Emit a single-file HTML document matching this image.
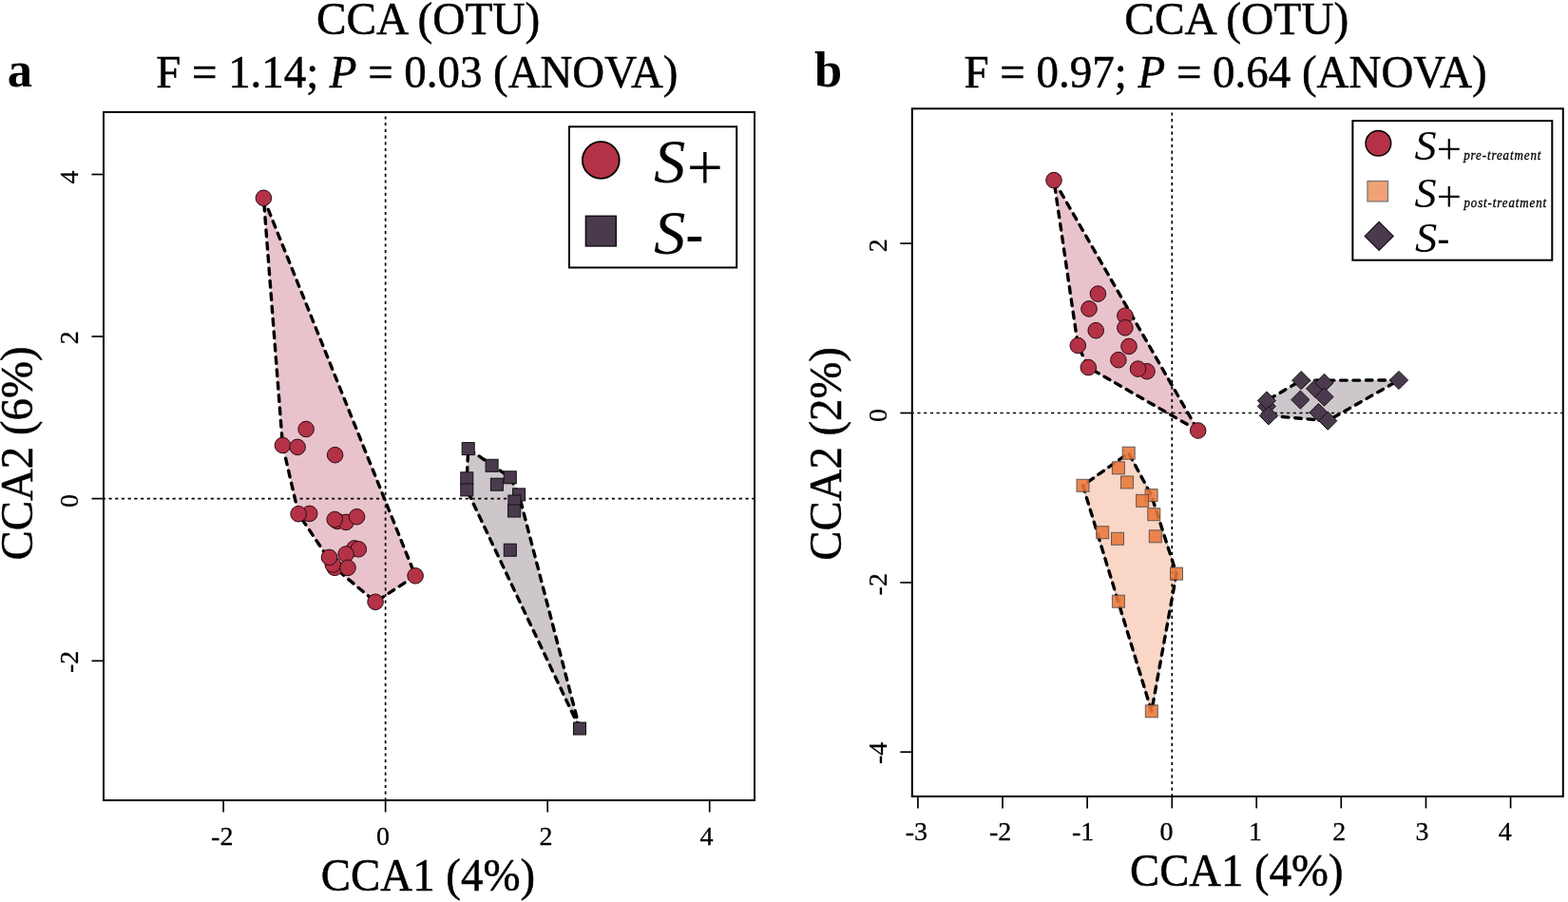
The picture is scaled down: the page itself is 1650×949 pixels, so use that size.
<!DOCTYPE html>
<html><head><meta charset="utf-8"><title>CCA (OTU)</title>
<style>html,body{margin:0;padding:0;background:#fff;width:1650px;height:949px;overflow:hidden}svg{display:block}</style>
</head><body>
<svg width="1650" height="949" viewBox="0 0 1650 949">
<style>
.tk{stroke:#000;stroke-width:1.7}
.dot{stroke:#000;stroke-width:1.7;stroke-dasharray:3.2 3.5}
.hl{fill:none;stroke:#000;stroke-width:3.4;stroke-dasharray:6.7 6.7;stroke-linecap:round;stroke-linejoin:round}
.pc{fill:#b43246;stroke:#2a0a12;stroke-width:1}
.ps{fill:#4b3a4e;stroke:#111;stroke-width:1}
.pd{fill:#4b3a4e;stroke:#111;stroke-width:1}
.po{fill:#e8773a;fill-opacity:0.88;stroke:#444;stroke-opacity:0.8;stroke-width:1}
</style>
<rect width="1650" height="949" fill="#fff"/>
<polygon points="277.4,208.3 437.1,605.8 395.1,633.3 352.2,597.3 314.1,540.7 297.4,468.5" fill="#e8c3cb"/>
<polygon points="491.3,503.3 492.7,472.1 536.8,502.3 546.1,520.4 610.0,766.5 491.3,515.4" fill="#cdc6cb"/>
<line x1="405.65" y1="119" x2="405.65" y2="841" class="dot" stroke-dashoffset="3.30"/><line x1="110" y1="524.6" x2="793" y2="524.6" class="dot" stroke-dashoffset="2.20"/>
<polygon points="437.1,605.8 395.1,633.3 352.2,597.3 314.1,540.7 297.4,468.5 277.4,208.3" class="hl"/>
<polygon points="610.0,766.5 491.3,515.4 491.3,503.3 492.7,472.1 536.8,502.3 546.1,520.4" class="hl"/>
<circle cx="277.4" cy="208.3" r="8.3" class="pc"/><circle cx="322.1" cy="451.5" r="8.3" class="pc"/><circle cx="297.4" cy="468.5" r="8.3" class="pc"/><circle cx="313.1" cy="470.4" r="8.3" class="pc"/><circle cx="352.6" cy="478.7" r="8.3" class="pc"/><circle cx="325.7" cy="540.4" r="8.3" class="pc"/><circle cx="314.1" cy="540.7" r="8.3" class="pc"/><circle cx="355" cy="548.4" r="8.3" class="pc"/><circle cx="364.1" cy="549.4" r="8.3" class="pc"/><circle cx="352.2" cy="546.5" r="8.3" class="pc"/><circle cx="375.5" cy="543.7" r="8.3" class="pc"/><circle cx="373" cy="576.9" r="8.3" class="pc"/><circle cx="377.3" cy="577.8" r="8.3" class="pc"/><circle cx="352.2" cy="597.3" r="8.3" class="pc"/><circle cx="350.3" cy="594" r="8.3" class="pc"/><circle cx="346.5" cy="586.4" r="8.3" class="pc"/><circle cx="364.1" cy="583" r="8.3" class="pc"/><circle cx="366" cy="597.3" r="8.3" class="pc"/><circle cx="437.1" cy="605.8" r="8.3" class="pc"/><circle cx="395.1" cy="633.3" r="8.3" class="pc"/>
<rect x="486.2" y="465.6" width="13.0" height="13.0" class="ps"/><rect x="511.1" y="483.3" width="13.0" height="13.0" class="ps"/><rect x="484.8" y="496.8" width="13.0" height="13.0" class="ps"/><rect x="484.8" y="508.9" width="13.0" height="13.0" class="ps"/><rect x="530.3" y="495.8" width="13.0" height="13.0" class="ps"/><rect x="516.4" y="503.2" width="13.0" height="13.0" class="ps"/><rect x="539.6" y="513.9" width="13.0" height="13.0" class="ps"/><rect x="534.9" y="521.0" width="13.0" height="13.0" class="ps"/><rect x="534.6" y="531.0" width="13.0" height="13.0" class="ps"/><rect x="530.3" y="572.2" width="13.0" height="13.0" class="ps"/><rect x="603.5" y="760.0" width="13.0" height="13.0" class="ps"/>
<rect x="109" y="118" width="685" height="724" fill="none" stroke="#000" stroke-width="2"/>
<line x1="235.1" y1="842" x2="235.1" y2="854.5" class="tk"/><line x1="405.65" y1="842" x2="405.65" y2="854.5" class="tk"/><line x1="576.2" y1="842" x2="576.2" y2="854.5" class="tk"/><line x1="746.7" y1="842" x2="746.7" y2="854.5" class="tk"/>
<line x1="109" y1="183.5" x2="96.5" y2="183.5" class="tk"/><line x1="109" y1="354.0" x2="96.5" y2="354.0" class="tk"/><line x1="109" y1="524.6" x2="96.5" y2="524.6" class="tk"/><line x1="109" y1="695.3" x2="96.5" y2="695.3" class="tk"/>
<rect x="599" y="133.3" width="176.2" height="148.2" fill="#fff" stroke="#000" stroke-width="2"/>
<circle cx="632.3" cy="168.5" r="19.4" class="pc" style="stroke:#000;stroke-width:1.8"/>
<rect x="616.4" y="227.3" width="31.9" height="31.6" class="ps" style="stroke-width:1.5"/>
<polygon points="1109.0,189.6 1260.7,453.0 1145.3,386.6 1134.3,363.5" fill="#e8c3cb"/>
<polygon points="1139.5,510.8 1187.7,476.7 1211.6,521.1 1238.0,603.6 1211.8,748.3" fill="#f9d6c5" stroke="#aab2b9" stroke-width="1"/>
<polygon points="1332.9,421.5 1369.2,400.2 1472.0,400.0 1397.3,442.7 1334.9,437.3 1332.9,427.5" fill="#cdc6cb"/>
<line x1="1233.3" y1="115.3" x2="1233.3" y2="836.9" class="dot" stroke-dashoffset="3.60"/><line x1="960.8" y1="434.5" x2="1643.8" y2="434.5" class="dot" stroke-dashoffset="2.10"/>
<polygon points="1260.7,453.0 1145.3,386.6 1134.3,363.5 1109.0,189.6" class="hl"/>
<polygon points="1238.0,603.6 1211.8,748.3 1139.5,510.8 1187.7,476.7 1211.6,521.1" class="hl"/>
<polygon points="1397.3,442.7 1334.9,437.3 1332.9,427.5 1332.9,421.5 1369.2,400.2 1472.0,400.0" class="hl" stroke-dashoffset="-1.3"/>
<circle cx="1109" cy="189.6" r="8.3" class="pc"/><circle cx="1155.4" cy="309.1" r="8.3" class="pc"/><circle cx="1146" cy="324.9" r="8.3" class="pc"/><circle cx="1183.9" cy="332.2" r="8.3" class="pc"/><circle cx="1153.2" cy="347.7" r="8.3" class="pc"/><circle cx="1183.9" cy="344.8" r="8.3" class="pc"/><circle cx="1134.3" cy="363.5" r="8.3" class="pc"/><circle cx="1188" cy="364.4" r="8.3" class="pc"/><circle cx="1176.9" cy="378.7" r="8.3" class="pc"/><circle cx="1145.3" cy="386.6" r="8.3" class="pc"/><circle cx="1207" cy="390.7" r="8.3" class="pc"/><circle cx="1197.5" cy="388.1" r="8.3" class="pc"/><circle cx="1260.7" cy="453" r="8.3" class="pc"/>
<rect x="1181.2" y="470.2" width="13.0" height="13.0" class="po"/><rect x="1170.4" y="485.8" width="13.0" height="13.0" class="po"/><rect x="1133.0" y="504.3" width="13.0" height="13.0" class="po"/><rect x="1179.5" y="500.9" width="13.0" height="13.0" class="po"/><rect x="1205.1" y="514.6" width="13.0" height="13.0" class="po"/><rect x="1195.6" y="520.3" width="13.0" height="13.0" class="po"/><rect x="1207.8" y="534.7" width="13.0" height="13.0" class="po"/><rect x="1153.7" y="553.7" width="13.0" height="13.0" class="po"/><rect x="1169.5" y="560.3" width="13.0" height="13.0" class="po"/><rect x="1209.3" y="557.8" width="13.0" height="13.0" class="po"/><rect x="1231.5" y="597.1" width="13.0" height="13.0" class="po"/><rect x="1170.4" y="626.2" width="13.0" height="13.0" class="po"/><rect x="1205.3" y="741.8" width="13.0" height="13.0" class="po"/>
<polygon points="1332.9,417.9 1342.5,427.5 1332.9,437.1 1323.3000000000002,427.5" class="pd"/><polygon points="1332.9,411.9 1342.5,421.5 1332.9,431.1 1323.3000000000002,421.5" class="pd"/><polygon points="1334.9,427.7 1344.5,437.3 1334.9,446.90000000000003 1325.3000000000002,437.3" class="pd"/><polygon points="1369.2,390.59999999999997 1378.8,400.2 1369.2,409.8 1359.6000000000001,400.2" class="pd"/><polygon points="1368.4,411.0 1378.0,420.6 1368.4,430.20000000000005 1358.8000000000002,420.6" class="pd"/><polygon points="1384.2,399.29999999999995 1393.8,408.9 1384.2,418.5 1374.6000000000001,408.9" class="pd"/><polygon points="1393.5,393.29999999999995 1403.1,402.9 1393.5,412.5 1383.9,402.9" class="pd"/><polygon points="1393.5,408.0 1403.1,417.6 1393.5,427.20000000000005 1383.9,417.6" class="pd"/><polygon points="1387.5,424.4 1397.1,434 1387.5,443.6 1377.9,434" class="pd"/><polygon points="1397.3,433.09999999999997 1406.8999999999999,442.7 1397.3,452.3 1387.7,442.7" class="pd"/><polygon points="1472,390.4 1481.6,400 1472,409.6 1462.4,400" class="pd"/>
<rect x="959.8" y="114.3" width="685.0" height="723.6" fill="none" stroke="#000" stroke-width="2"/>
<line x1="965.9" y1="837.9" x2="965.9" y2="850.4" class="tk"/><line x1="1055.0" y1="837.9" x2="1055.0" y2="850.4" class="tk"/><line x1="1144.1" y1="837.9" x2="1144.1" y2="850.4" class="tk"/><line x1="1233.3" y1="837.9" x2="1233.3" y2="850.4" class="tk"/><line x1="1322.2" y1="837.9" x2="1322.2" y2="850.4" class="tk"/><line x1="1411.3" y1="837.9" x2="1411.3" y2="850.4" class="tk"/><line x1="1500.5" y1="837.9" x2="1500.5" y2="850.4" class="tk"/><line x1="1589.6" y1="837.9" x2="1589.6" y2="850.4" class="tk"/>
<line x1="959.8" y1="256.1" x2="947.3" y2="256.1" class="tk"/><line x1="959.8" y1="434.5" x2="947.3" y2="434.5" class="tk"/><line x1="959.8" y1="612.9" x2="947.3" y2="612.9" class="tk"/><line x1="959.8" y1="791.2" x2="947.3" y2="791.2" class="tk"/>
<rect x="1423.4" y="127.1" width="209.9" height="146.6" fill="#fff" stroke="#000" stroke-width="2"/>
<circle cx="1450.4" cy="150.8" r="13.3" class="pc" style="stroke:#000;stroke-width:1.5"/>
<rect x="1439" y="190.5" width="21.5" height="21.4" style="fill:#f0a274;stroke:#777;stroke-width:1.3"/>
<polygon points="1451.2,233.4 1466.2,248.4 1451.2,263.4 1436.2,248.4" class="pd" style="stroke-width:1.2"/>
<text transform="translate(333.02,36.4) scale(0.9856,1)" style="font-family:&quot;Liberation Serif&quot;,&quot;Times New Roman&quot;,serif;font-size:48px;stroke:#000;stroke-width:0.5">CCA (OTU)</text>
<text transform="translate(164.22,91.6) scale(0.9765,1)" style="font-family:&quot;Liberation Serif&quot;,&quot;Times New Roman&quot;,serif;font-size:48px;stroke:#000;stroke-width:0.5">F = 1.14; <tspan font-style="italic">P</tspan> = 0.03 (ANOVA)</text>
<text transform="translate(1183.32,36.4) scale(0.9890,1)" style="font-family:&quot;Liberation Serif&quot;,&quot;Times New Roman&quot;,serif;font-size:48px;stroke:#000;stroke-width:0.5">CCA (OTU)</text>
<text transform="translate(1014.52,91.6) scale(0.9781,1)" style="font-family:&quot;Liberation Serif&quot;,&quot;Times New Roman&quot;,serif;font-size:48px;stroke:#000;stroke-width:0.5">F = 0.97; <tspan font-style="italic">P</tspan> = 0.64 (ANOVA)</text>
<text transform="translate(7.68,91) scale(1.0105,1)" style="font-family:&quot;Liberation Serif&quot;,&quot;Times New Roman&quot;,serif;font-size:52px;font-weight:bold">a</text>
<text transform="translate(857.00,91) scale(1.0075,1)" style="font-family:&quot;Liberation Serif&quot;,&quot;Times New Roman&quot;,serif;font-size:52px;font-weight:bold">b</text>
<text transform="translate(337.73,936.7) scale(0.9776,1)" style="font-family:&quot;Liberation Serif&quot;,&quot;Times New Roman&quot;,serif;font-size:48px;stroke:#000;stroke-width:0.5">CCA1 (4%)</text>
<text transform="translate(1189.04,932.2) scale(0.9732,1)" style="font-family:&quot;Liberation Serif&quot;,&quot;Times New Roman&quot;,serif;font-size:48px;stroke:#000;stroke-width:0.5">CCA1 (4%)</text>
<text transform="translate(34.1,589.46) rotate(-90) scale(0.9754,1)" style="font-family:&quot;Liberation Serif&quot;,&quot;Times New Roman&quot;,serif;font-size:48px;stroke:#000;stroke-width:0.5">CCA2 (6%)</text>
<text transform="translate(885.1,589.76) rotate(-90) scale(0.9745,1)" style="font-family:&quot;Liberation Serif&quot;,&quot;Times New Roman&quot;,serif;font-size:48px;stroke:#000;stroke-width:0.5">CCA2 (2%)</text>
<text transform="translate(222.12,888.6) scale(1.0000,1)" style="font-family:&quot;Liberation Serif&quot;,&quot;Times New Roman&quot;,serif;font-size:28px;stroke:#000;stroke-width:0.3">-2</text>
<text transform="translate(395.90,888.6) scale(1.0000,1)" style="font-family:&quot;Liberation Serif&quot;,&quot;Times New Roman&quot;,serif;font-size:28px;stroke:#000;stroke-width:0.3">0</text>
<text transform="translate(567.62,888.6) scale(1.0000,1)" style="font-family:&quot;Liberation Serif&quot;,&quot;Times New Roman&quot;,serif;font-size:28px;stroke:#000;stroke-width:0.3">2</text>
<text transform="translate(736.50,888.6) scale(1.0000,1)" style="font-family:&quot;Liberation Serif&quot;,&quot;Times New Roman&quot;,serif;font-size:28px;stroke:#000;stroke-width:0.3">4</text>
<text transform="translate(952.77,883.6) scale(1.0000,1)" style="font-family:&quot;Liberation Serif&quot;,&quot;Times New Roman&quot;,serif;font-size:28px;stroke:#000;stroke-width:0.3">-3</text>
<text transform="translate(1040.92,883.6) scale(1.0000,1)" style="font-family:&quot;Liberation Serif&quot;,&quot;Times New Roman&quot;,serif;font-size:28px;stroke:#000;stroke-width:0.3">-2</text>
<text transform="translate(1127.92,883.6) scale(1.0000,1)" style="font-family:&quot;Liberation Serif&quot;,&quot;Times New Roman&quot;,serif;font-size:28px;stroke:#000;stroke-width:0.3">-1</text>
<text transform="translate(1220.40,883.6) scale(1.0000,1)" style="font-family:&quot;Liberation Serif&quot;,&quot;Times New Roman&quot;,serif;font-size:28px;stroke:#000;stroke-width:0.3">0</text>
<text transform="translate(1314.12,883.6) scale(1.0000,1)" style="font-family:&quot;Liberation Serif&quot;,&quot;Times New Roman&quot;,serif;font-size:28px;stroke:#000;stroke-width:0.3">1</text>
<text transform="translate(1402.22,883.6) scale(1.0000,1)" style="font-family:&quot;Liberation Serif&quot;,&quot;Times New Roman&quot;,serif;font-size:28px;stroke:#000;stroke-width:0.3">2</text>
<text transform="translate(1489.38,883.6) scale(1.0000,1)" style="font-family:&quot;Liberation Serif&quot;,&quot;Times New Roman&quot;,serif;font-size:28px;stroke:#000;stroke-width:0.3">3</text>
<text transform="translate(1576.80,883.6) scale(1.0000,1)" style="font-family:&quot;Liberation Serif&quot;,&quot;Times New Roman&quot;,serif;font-size:28px;stroke:#000;stroke-width:0.3">4</text>
<text transform="translate(82.2,193.40) rotate(-90) scale(1.0000,1)" style="font-family:&quot;Liberation Serif&quot;,&quot;Times New Roman&quot;,serif;font-size:28px;stroke:#000;stroke-width:0.3">4</text>
<text transform="translate(82.2,362.18) rotate(-90) scale(1.0000,1)" style="font-family:&quot;Liberation Serif&quot;,&quot;Times New Roman&quot;,serif;font-size:28px;stroke:#000;stroke-width:0.3">2</text>
<text transform="translate(82.2,534.00) rotate(-90) scale(1.0000,1)" style="font-family:&quot;Liberation Serif&quot;,&quot;Times New Roman&quot;,serif;font-size:28px;stroke:#000;stroke-width:0.3">0</text>
<text transform="translate(82.2,707.98) rotate(-90) scale(1.0000,1)" style="font-family:&quot;Liberation Serif&quot;,&quot;Times New Roman&quot;,serif;font-size:28px;stroke:#000;stroke-width:0.3">-2</text>
<text transform="translate(933.0,265.27) rotate(-90) scale(1.0000,1)" style="font-family:&quot;Liberation Serif&quot;,&quot;Times New Roman&quot;,serif;font-size:28px;stroke:#000;stroke-width:0.3">2</text>
<text transform="translate(933.0,444.00) rotate(-90) scale(1.0000,1)" style="font-family:&quot;Liberation Serif&quot;,&quot;Times New Roman&quot;,serif;font-size:28px;stroke:#000;stroke-width:0.3">0</text>
<text transform="translate(933.0,626.38) rotate(-90) scale(1.0000,1)" style="font-family:&quot;Liberation Serif&quot;,&quot;Times New Roman&quot;,serif;font-size:28px;stroke:#000;stroke-width:0.3">-2</text>
<text transform="translate(933.0,804.10) rotate(-90) scale(1.0000,1)" style="font-family:&quot;Liberation Serif&quot;,&quot;Times New Roman&quot;,serif;font-size:28px;stroke:#000;stroke-width:0.3">-4</text>
<text transform="translate(688.09,192.4) scale(1.0128,1)" style="font-family:&quot;Liberation Serif&quot;,&quot;Times New Roman&quot;,serif;font-size:66px;font-style:italic">S</text>
<text transform="translate(722.66,199.5) scale(0.9667,1)" style="font-family:&quot;Liberation Serif&quot;,&quot;Times New Roman&quot;,serif;font-size:70px">+</text>
<text transform="translate(688.09,267.3) scale(1.0128,1)" style="font-family:&quot;Liberation Serif&quot;,&quot;Times New Roman&quot;,serif;font-size:66px;font-style:italic">S</text>
<text transform="translate(721.38,267.3) scale(0.8514,1)" style="font-family:&quot;Liberation Serif&quot;,&quot;Times New Roman&quot;,serif;font-size:66px;font-style:italic">-</text>
<text transform="translate(1488.58,167.5) scale(1.0381,1)" style="font-family:&quot;Liberation Serif&quot;,&quot;Times New Roman&quot;,serif;font-size:44.5px;font-style:italic">S</text>
<text transform="translate(1511.87,171.6) scale(0.9909,1)" style="font-family:&quot;Liberation Serif&quot;,&quot;Times New Roman&quot;,serif;font-size:47px">+</text>
<text transform="translate(1540.14,167.6) scale(0.8312,1)" style="font-family:&quot;Liberation Serif&quot;,&quot;Times New Roman&quot;,serif;font-size:15.6px;font-style:italic;letter-spacing:1.1px;stroke:#000;stroke-width:0.35">pre-treatment</text>
<text transform="translate(1488.58,217.6) scale(1.0381,1)" style="font-family:&quot;Liberation Serif&quot;,&quot;Times New Roman&quot;,serif;font-size:44.5px;font-style:italic">S</text>
<text transform="translate(1511.87,221.7) scale(0.9909,1)" style="font-family:&quot;Liberation Serif&quot;,&quot;Times New Roman&quot;,serif;font-size:47px">+</text>
<text transform="translate(1540.44,217.7) scale(0.8291,1)" style="font-family:&quot;Liberation Serif&quot;,&quot;Times New Roman&quot;,serif;font-size:15.6px;font-style:italic;letter-spacing:1.1px;stroke:#000;stroke-width:0.35">post-treatment</text>
<text transform="translate(1488.88,265.2) scale(1.0476,1)" style="font-family:&quot;Liberation Serif&quot;,&quot;Times New Roman&quot;,serif;font-size:44.5px;font-style:italic">S</text>
<text transform="translate(1512.61,265.2) scale(0.8596,1)" style="font-family:&quot;Liberation Serif&quot;,&quot;Times New Roman&quot;,serif;font-size:44.5px;font-style:italic">-</text>
</svg>
</body></html>
